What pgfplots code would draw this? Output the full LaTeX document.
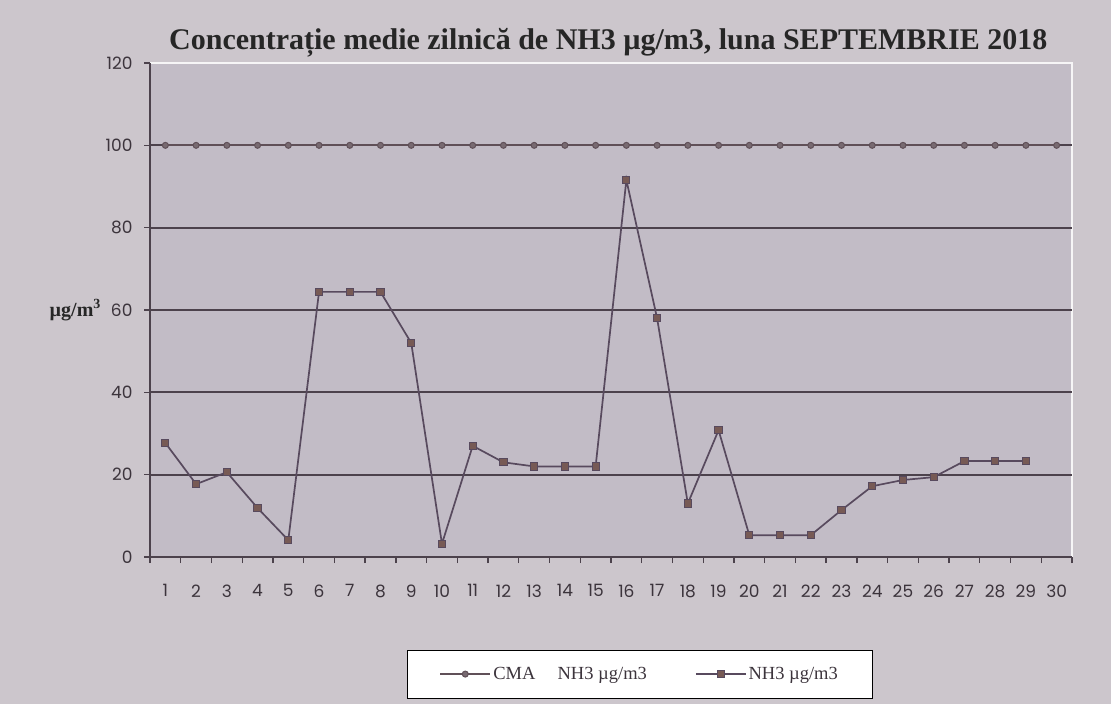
\documentclass[border=0pt]{standalone}
\usepackage{pgfplots}
\pgfplotsset{compat=1.18}
\usepackage{fontspec}
\setmainfont{Liberation Serif}
\newfontfamily\tickfont{Poppins}
\definecolor{bgout}{RGB}{204,198,204}
\definecolor{bgin}{RGB}{194,188,198}
\definecolor{lineC}{RGB}{96,80,88}
\definecolor{lineN}{RGB}{88,74,94}
\definecolor{gridc}{RGB}{76,66,76}
\definecolor{txt}{RGB}{60,52,60}
\begin{document}
\begin{tikzpicture}
\fill[bgout] (0pt,0pt) rectangle (1111pt,704pt);
\begin{axis}[
  at={(150pt,147pt)}, anchor=south west,
  scale only axis, width=922pt, height=494pt,
  xmin=0.5, xmax=30.5, ymin=0, ymax=120,
  axis lines=left, axis line style={gridc, line width=1.4pt, -},
  axis background/.style={fill=bgin, draw=white!85!bgin, line width=1.5pt},
  xtick={0.5,1.5,...,30.5},
  x tick label as interval,
  xticklabels={1,2,3,4,5,6,7,8,9,10,11,12,13,14,15,16,17,18,19,20,21,22,23,24,25,26,27,28,29,30},
  ytick={0,20,...,120},
  tick align=outside, major tick length=6pt,
  tick style={gridc, line width=1.3pt},
  extra y ticks={20,40,60,80,100},
  extra y tick labels={},
  extra y tick style={grid=major, major tick length=0pt, major grid style={gridc, line width=1.8pt}},
  tick label style={font=\tickfont\fontsize{17}{20}\selectfont, text=txt},
  x tick label style={yshift=-18pt},
  y tick label style={xshift=-8pt},
  /pgf/number format/assume math mode=true,
  title={Concentrație medie zilnică de NH3 µg/m3, luna SEPTEMBRIE 2018},
  title style={at={(0.497,1)}, anchor=south, yshift=-4pt, font=\bfseries\fontsize{30}{34}\selectfont, text=black!85},
  ylabel={µg/m\textsuperscript{3}},
  ylabel style={at={(axis description cs:-0.081,0.5)}, rotate=-90, anchor=center, font=\bfseries\fontsize{20}{22}\selectfont, text=black!85},
  legend columns=2,
  legend style={at={(axis description cs:0.531,-0.237)}, anchor=center, fill=white, draw=black, line width=0.8pt,
    font=\fontsize{18.5}{21}\selectfont, text=txt, inner xsep=32pt, inner ysep=15pt,
    /tikz/every even column/.append style={column sep=46pt}},
  legend image code/.code={\draw[mark repeat=2,mark phase=2] plot coordinates {(0pt,0pt) (25pt,0pt) (50pt,0pt)};},
]
\addplot[lineC, line width=2pt, mark=*, mark size=3pt, mark options={fill=lineC!85, line width=1pt}] coordinates {
(1,100)(2,100)(3,100)(4,100)(5,100)(6,100)(7,100)(8,100)(9,100)(10,100)
(11,100)(12,100)(13,100)(14,100)(15,100)(16,100)(17,100)(18,100)(19,100)(20,100)
(21,100)(22,100)(23,100)(24,100)(25,100)(26,100)(27,100)(28,100)(29,100)(30,100)};
\addlegendentry{CMA\hspace{1.2em}NH3 µg/m3}
\addplot[lineN, line width=1.7pt, mark=square*, mark size=3.6pt, mark options={fill=lineN!70!brown, draw=lineN, line width=1pt}] coordinates {
(1,27.7)(2,17.7)(3,20.6)(4,11.9)(5,4.1)(6,64.4)(7,64.4)(8,64.4)(9,52)(10,3.2)
(11,27)(12,23)(13,22)(14,22)(15,22)(16,91.6)(17,58)(18,13)(19,30.8)(20,5.3)
(21,5.3)(22,5.3)(23,11.4)(24,17.2)(25,18.7)(26,19.4)(27,23.3)(28,23.3)(29,23.3)};
\addlegendentry{NH3 µg/m3}
\end{axis}
\end{tikzpicture}
\end{document}
